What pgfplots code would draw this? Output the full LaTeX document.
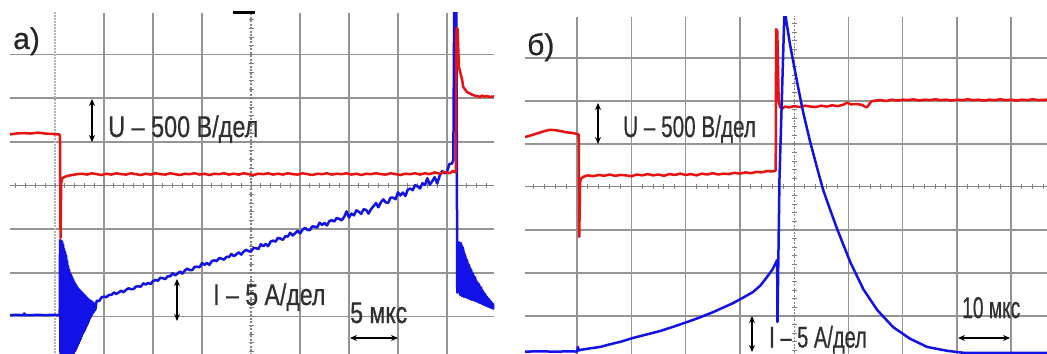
\documentclass[border=0pt]{standalone}
\usepackage{pgfplots}
\pgfplotsset{compat=1.18}
\usepackage{fontspec}
\setmainfont{Liberation Sans}
\newfontfamily\notefont{Liberation Sans}[FakeBold=0.7]
\usetikzlibrary{arrows.meta}

\definecolor{trRed}{RGB}{232,18,18}
\definecolor{trBlue}{RGB}{18,18,232}
\definecolor{gridGray}{RGB}{148,148,148}
\definecolor{centerGray}{RGB}{130,130,130}
\definecolor{txtGray}{RGB}{48,48,48}

% oscilloscope screen: grid only, no axis lines, ticks or labels
\pgfplotsset{
  screen/.style={
    scale only axis,
    anchor=south west,
    axis line style={draw=none},
    tick style={draw=none},
    xticklabel=\empty, yticklabel=\empty,
    grid=major,
    major grid style={gridGray, line width=1.6bp},
    clip=true,
  },
  trace/.style={line width=2.5bp, line join=round, no markers},
  band/.style={fill=trBlue, draw=trBlue, line width=1bp, line join=round, no markers},
}
\tikzset{
  dbl/.style={{Stealth[length=7bp,width=6bp]}-{Stealth[length=7bp,width=6bp]}, line width=1.3bp, black},
  note/.style={anchor=base west, inner sep=0pt, text=txtGray, font=\notefont\fontsize{30bp}{32bp}\selectfont},
  tag/.style={anchor=base west, inner sep=0pt, text=black!85, font=\notefont\fontsize{30bp}{32bp}\selectfont},
}

\begin{document}
\begin{tikzpicture}
\useasboundingbox (0,0) rectangle (1047bp,354bp);

% ---------------- а) ----------------
\begin{axis}[screen, at={(10bp,0bp)}, width=484bp, height=341bp,
  xmin=0.08, xmax=9.96, ymin=-3.858, ymax=3.95,
  xtick={2,3,4,6,7,8,9}, ytick={-3,-2,-1,1,2,3}]
  % trigger position marker line
  \draw[gridGray!70!white, line width=1.4bp, dash pattern=on 1.5bp off 1.5bp] (axis cs:1,-5) -- (axis cs:1,5);
  % centre lines with minor divisions
  \draw[centerGray, line width=1bp] (axis cs:0,0) -- (axis cs:10,0);
  \draw[centerGray, line width=5bp, dash pattern=on 1bp off 8.8bp] (axis cs:-0.0102,0) -- (axis cs:10,0);
  \draw[centerGray, line width=1.2bp, dash pattern=on 2bp off 1.5bp] (axis cs:5,-5) -- (axis cs:5,5);
  \draw[centerGray, line width=5bp, dash pattern=on 1bp off 7.73bp] (axis cs:5,-4.0114) -- (axis cs:5,5);

  % envelope of the ringing after switch-on
  \addplot[band] coordinates {
    (1.102,-1.25) (1.143,-1.28) (1.184,-1.45) (1.224,-1.6) (1.265,-1.85) (1.306,-2.0)
    (1.347,-2.1) (1.388,-2.2) (1.429,-2.28) (1.469,-2.35) (1.51,-2.4) (1.551,-2.45)
    (1.592,-2.5) (1.633,-2.55) (1.673,-2.6) (1.714,-2.63) (1.755,-2.66) (1.796,-2.7)
    (1.837,-2.72)
    (1.827,-2.83) (1.786,-2.9) (1.745,-2.97) (1.704,-3.06) (1.663,-3.17) (1.622,-3.27)
    (1.582,-3.36) (1.541,-3.46) (1.5,-3.57) (1.459,-3.67) (1.418,-3.77) (1.378,-3.84)
    (1.337,-3.93) (1.296,-3.99) (1.255,-4.08) (1.214,-4.14) (1.173,-4.18) (1.133,-4.2)
    (1.112,-4.2)
  };
  % envelope of the ringing after the breakdown
  \addplot[band] coordinates {
    (9.2449,-1.30) (9.2857,-1.32) (9.3265,-1.42) (9.3673,-1.58) (9.4082,-1.70) (9.449,-1.82)
    (9.4898,-1.92) (9.5306,-2.02) (9.5714,-2.10) (9.6122,-2.20) (9.6531,-2.26) (9.6939,-2.33)
    (9.7347,-2.42) (9.7755,-2.48) (9.8163,-2.55) (9.8571,-2.60) (9.898,-2.66) (9.9388,-2.71)
    (9.97,-2.74) (9.97,-2.84)
    (9.9184,-2.81) (9.8776,-2.79) (9.8367,-2.77) (9.7959,-2.75) (9.7551,-2.73) (9.7143,-2.71)
    (9.6735,-2.69) (9.6327,-2.67) (9.5918,-2.65) (9.551,-2.63) (9.5102,-2.62) (9.4694,-2.60)
    (9.4286,-2.58) (9.3878,-2.56) (9.3469,-2.55) (9.3061,-2.53) (9.2653,-2.50)
  };
  % current, 5 A/div
  \addplot[trace, trBlue] coordinates {
    (0.08,-2.97) (0.2,-2.96) (0.35,-2.97) (0.37,-2.93) (0.39,-2.97) (0.5,-2.97)
    (0.65,-2.96) (0.8,-2.97) (0.95,-2.96) (1.08,-2.97) (1.095,-2.97)
    (1.1020,-1.25) (1.1122,-4.2) (1.1224,-1.26) (1.1327,-4.2) (1.1429,-1.28) (1.1531,-4.2)
    (1.1633,-1.35) (1.1735,-4.18) (1.1837,-1.45) (1.1939,-4.16) (1.2041,-1.52) (1.2143,-4.14)
    (1.2245,-1.6) (1.2347,-4.11) (1.2449,-1.72) (1.2551,-4.08) (1.2653,-1.85) (1.2755,-4.03)
    (1.2857,-1.93) (1.2959,-3.99) (1.3061,-2.0) (1.3163,-3.97) (1.3265,-2.05) (1.3367,-3.93)
    (1.3469,-2.1) (1.3571,-3.88) (1.3673,-2.15) (1.3776,-3.84) (1.3878,-2.2) (1.398,-3.81)
    (1.4082,-2.24) (1.4184,-3.77) (1.4286,-2.28) (1.4388,-3.72) (1.449,-2.32) (1.4592,-3.67)
    (1.4694,-2.35) (1.4796,-3.62) (1.4898,-2.38) (1.5,-3.57) (1.5102,-2.4) (1.5204,-3.52)
    (1.5306,-2.43) (1.5408,-3.46) (1.551,-2.45) (1.5612,-3.4) (1.5714,-2.47) (1.5816,-3.36)
    (1.5918,-2.5) (1.602,-3.32) (1.6122,-2.52) (1.6224,-3.27) (1.6327,-2.55) (1.6429,-3.22)
    (1.6531,-2.57) (1.6633,-3.17) (1.6735,-2.6) (1.6837,-3.12) (1.6939,-2.61) (1.7041,-3.06)
    (1.7143,-2.63) (1.7245,-3.01) (1.7347,-2.65) (1.7449,-2.97) (1.7551,-2.66) (1.7653,-2.93)
    (1.7755,-2.68) (1.7857,-2.9) (1.7959,-2.7) (1.8061,-2.87) (1.8163,-2.71) (1.8265,-2.83)
    (1.8367,-2.72)
    (1.85,-2.640) (1.90,-2.645) (1.95,-2.560) (2.00,-2.544) (2.05,-2.557) (2.10,-2.504)
    (2.15,-2.505) (2.20,-2.449) (2.25,-2.483) (2.30,-2.448) (2.35,-2.410) (2.40,-2.444)
    (2.45,-2.388) (2.50,-2.353) (2.55,-2.375) (2.60,-2.373) (2.65,-2.314) (2.70,-2.309)
    (2.75,-2.316) (2.80,-2.241) (2.85,-2.266) (2.90,-2.231) (2.95,-2.258) (3.00,-2.189)
    (3.05,-2.164) (3.10,-2.181) (3.15,-2.110) (3.20,-2.122) (3.25,-2.143) (3.30,-2.076)
    (3.35,-2.081) (3.40,-2.010) (3.45,-2.059) (3.50,-2.016) (3.55,-1.969) (3.60,-2.017)
    (3.65,-1.946) (3.70,-1.903) (3.75,-1.936) (3.80,-1.937) (3.85,-1.862) (3.90,-1.859)
    (3.95,-1.872) (4.00,-1.777) (4.05,-1.816) (4.10,-1.774) (4.15,-1.816) (4.20,-1.730)
    (4.25,-1.713) (4.30,-1.731) (4.35,-1.661) (4.40,-1.675) (4.45,-1.698) (4.50,-1.632)
    (4.55,-1.638) (4.60,-1.568) (4.65,-1.619) (4.70,-1.577) (4.75,-1.532) (4.80,-1.582)
    (4.85,-1.513) (4.90,-1.472) (4.95,-1.506) (5.00,-1.509) (5.05,-1.431) (5.10,-1.434)
    (5.15,-1.456) (5.20,-1.343) (5.25,-1.391) (5.30,-1.339) (5.35,-1.391) (5.40,-1.284)
    (5.45,-1.262) (5.50,-1.285) (5.55,-1.198) (5.60,-1.216) (5.65,-1.244) (5.70,-1.162)
    (5.75,-1.169) (5.80,-1.082) (5.85,-1.145) (5.90,-1.093) (5.95,-1.036) (6.00,-1.099)
    (6.05,-1.016) (6.10,-0.968) (6.15,-1.016) (6.20,-1.024) (6.25,-0.937) (6.30,-0.940)
    (6.35,-0.963) (6.40,-0.851) (6.45,-0.904) (6.50,-0.857) (6.55,-0.915) (6.60,-0.813)
    (6.65,-0.796) (6.70,-0.824) (6.75,-0.742) (6.80,-0.765) (6.85,-0.798) (6.90,-0.721)
    (6.95,-0.594) (7.00,-0.737) (7.05,-0.643) (7.10,-0.683) (7.15,-0.569) (7.20,-0.602)
    (7.25,-0.649) (7.30,-0.541) (7.35,-0.560) (7.40,-0.642) (7.45,-0.541) (7.50,-0.475)
    (7.55,-0.403) (7.60,-0.498) (7.65,-0.384) (7.70,-0.318) (7.75,-0.386) (7.80,-0.397)
    (7.85,-0.276) (7.90,-0.280) (7.95,-0.313) (8.00,-0.156) (8.05,-0.229) (8.10,-0.161)
    (8.15,-0.241) (8.20,-0.096) (8.25,-0.070) (8.30,-0.107) (8.35,0.009) (8.40,-0.021)
    (8.45,-0.068) (8.50,0.052) (8.55,0.014) (8.60,0.166) (8.65,0.018) (8.70,0.100)
    (8.75,0.193) (8.80,0.045) (8.85,0.220) (8.90,0.330) (8.95,0.280) (9.00,0.310)
    (9.05,0.495) (9.10,0.500) (9.13,0.580)
    (9.15,4.6) (9.19,4.6) (9.21,-2.45)
    (9.2449,-1.30) (9.2653,-2.50) (9.2857,-1.32) (9.3061,-2.53) (9.3265,-1.42) (9.3469,-2.55)
    (9.3673,-1.58) (9.3878,-2.56) (9.4082,-1.70) (9.4286,-2.58) (9.449,-1.82) (9.4694,-2.60)
    (9.4898,-1.92) (9.5102,-2.62) (9.5306,-2.02) (9.551,-2.63) (9.5714,-2.10) (9.5918,-2.65)
    (9.6122,-2.20) (9.6327,-2.67) (9.6531,-2.26) (9.6735,-2.69) (9.6939,-2.33) (9.7143,-2.71)
    (9.7347,-2.42) (9.7551,-2.73) (9.7755,-2.48) (9.7959,-2.75) (9.8163,-2.55) (9.8367,-2.77)
    (9.8571,-2.60) (9.8776,-2.79) (9.898,-2.66) (9.9184,-2.81) (9.9388,-2.71) (9.9592,-2.83)
  };
  % voltage, 500 V/div
  \addplot[trace, trRed] coordinates {
    (0.08,1.17) (0.2,1.19) (0.35,1.20) (0.5,1.19) (0.65,1.21) (0.8,1.19) (0.95,1.18)
    (1.08,1.17) (1.10,1.15) (1.112,-1.20) (1.125,0.05) (1.14,0.15) (1.18,0.19)
    (1.25,0.22) (1.35,0.24) (1.45,0.26)
    (1.55,0.27) (1.65,0.25) (1.75,0.28) (1.85,0.26) (1.95,0.24) (2.05,0.27) (2.15,0.25)
    (2.25,0.28) (2.35,0.26) (2.45,0.25) (2.55,0.28) (2.65,0.26) (2.75,0.24) (2.85,0.27)
    (2.95,0.25) (3.05,0.28) (3.15,0.26) (3.25,0.25) (3.35,0.28) (3.45,0.26) (3.55,0.24)
    (3.65,0.27) (3.75,0.26) (3.85,0.28) (3.95,0.25) (4.05,0.27) (4.15,0.24) (4.25,0.27)
    (4.35,0.26) (4.45,0.28) (4.55,0.25) (4.65,0.27) (4.75,0.25) (4.85,0.28) (4.95,0.26)
    (5.05,0.24) (5.15,0.27) (5.25,0.26) (5.35,0.28) (5.45,0.25) (5.55,0.27) (5.65,0.25)
    (5.75,0.28) (5.85,0.26) (5.95,0.25) (6.05,0.28) (6.15,0.26) (6.25,0.24) (6.35,0.27)
    (6.45,0.26) (6.55,0.28) (6.65,0.25) (6.75,0.27) (6.85,0.26) (6.95,0.28) (7.05,0.25)
    (7.15,0.27) (7.25,0.24) (7.35,0.27) (7.45,0.26) (7.55,0.28) (7.65,0.26) (7.75,0.25)
    (7.85,0.28) (7.95,0.26) (8.05,0.24) (8.15,0.27) (8.25,0.26) (8.35,0.28) (8.45,0.25)
    (8.55,0.28) (8.65,0.26) (8.75,0.30) (8.85,0.27) (8.95,0.31) (9.05,0.28) (9.12,0.33)
    (9.18,0.30)
    (9.195,3.61) (9.215,3.58) (9.245,2.71) (9.31,2.42) (9.33,2.26) (9.41,2.14)
    (9.53,2.07) (9.6,2.05) (9.68,2.03) (9.72,2.06) (9.76,2.03) (9.8,2.05) (9.88,2.03)
    (9.96,2.04)
  };
\end{axis}

% ---------------- б) ----------------
\begin{axis}[screen, at={(525bp,0bp)}, width=522bp, height=337bp,
  xmin=0.04, xmax=9.66, ymin=-3.884, ymax=3.953,
  xtick={1,2,3,4,6,7,8,9}, ytick={-3,-2,-1,1,2,3}]
  \draw[centerGray, line width=1bp] (axis cs:0,0) -- (axis cs:10,0);
  \draw[centerGray, line width=5bp, dash pattern=on 1bp off 9.85bp] (axis cs:-0.0092,0) -- (axis cs:10,0);
  \draw[centerGray, line width=1.2bp, dash pattern=on 2bp off 1.5bp] (axis cs:5,-5) -- (axis cs:5,5);
  \draw[centerGray, line width=5bp, dash pattern=on 1bp off 7.6bp] (axis cs:5,-4.0116) -- (axis cs:5,5);

  % voltage, 500 V/div
  \addplot[trace, trRed] coordinates {
    (0.04,1.16) (0.12,1.19) (0.2,1.22) (0.3,1.26) (0.4,1.30) (0.5,1.33) (0.6,1.32)
    (0.7,1.30) (0.8,1.27) (0.9,1.26) (0.97,1.24) (1.03,1.22) (1.04,-1.16) (1.055,0.12)
    (1.08,0.2) (1.12,0.24) (1.2,0.27)
    (1.3,0.25) (1.4,0.28) (1.5,0.26) (1.6,0.29) (1.7,0.26) (1.8,0.28) (1.9,0.27)
    (2.0,0.25) (2.1,0.29) (2.2,0.27) (2.3,0.30) (2.4,0.27) (2.5,0.29) (2.6,0.26)
    (2.7,0.30) (2.8,0.28) (2.9,0.31) (3.0,0.28) (3.1,0.30) (3.2,0.27) (3.3,0.31)
    (3.4,0.29) (3.5,0.32) (3.6,0.29) (3.7,0.31) (3.8,0.30) (3.9,0.33) (4.0,0.31)
    (4.1,0.34) (4.2,0.32) (4.3,0.35) (4.4,0.34) (4.5,0.37) (4.6,0.36) (4.66,0.38)
    (4.668,3.67) (4.69,3.62) (4.715,2.0) (4.74,1.86) (4.78,1.82) (4.83,1.87)
    (4.9,1.85) (5.0,1.88) (5.1,1.86) (5.2,1.89) (5.3,1.87) (5.4,1.86) (5.5,1.89)
    (5.6,1.87) (5.7,1.90) (5.8,1.88) (5.9,1.91) (5.98,1.96) (6.05,1.92) (6.15,1.93)
    (6.25,1.91) (6.33,1.85) (6.36,1.88) (6.42,1.99) (6.5,2.01) (6.6,2.02)
    (6.7,2.00) (6.8,2.03) (6.9,2.01) (7.0,2.03) (7.1,2.02) (7.2,2.04) (7.3,2.01)
    (7.4,2.03) (7.5,2.02) (7.6,2.04) (7.7,2.02) (7.8,2.03) (7.9,2.01) (8.0,2.03)
    (8.1,2.02) (8.2,2.04) (8.3,2.02) (8.4,2.03) (8.5,2.01) (8.6,2.03) (8.7,2.02)
    (8.8,2.04) (8.9,2.02) (9.0,2.03) (9.1,2.01) (9.2,2.03) (9.3,2.02) (9.4,2.04)
    (9.5,2.02) (9.66,2.03)
  };
  % current, 5 A/div
  \addplot[trace, trBlue] coordinates {
    (0.04,-3.83) (0.3,-3.82) (0.6,-3.83) (0.9,-3.82) (1.0,-3.83) (1.015,-3.72)
    (1.03,-3.80) (1.055,-3.79) (1.2,-3.76) (1.424,-3.72) (1.6,-3.66) (1.8,-3.60)
    (2.032,-3.51) (2.25,-3.44) (2.53,-3.35) (2.75,-3.26) (3.028,-3.14) (3.25,-3.04)
    (3.507,-2.91) (3.7,-2.80) (3.876,-2.70) (4.05,-2.58) (4.244,-2.44) (4.38,-2.29)
    (4.502,-2.09) (4.6,-1.92) (4.687,-1.70)
    (4.693,-3.14) (4.73,0.2) (4.825,4.25)
    (4.853,3.88) (4.926,3.30) (5.055,2.44) (5.166,1.74) (5.295,1.05) (5.424,0.44)
    (5.535,-0.07) (5.664,-0.53) (5.793,-0.98) (6.032,-1.74) (6.272,-2.37) (6.53,-2.86)
    (6.825,-3.26) (7.138,-3.53) (7.452,-3.72) (7.82,-3.81) (8.152,-3.86) (9.66,-3.86)
  };
\end{axis}

% trigger marker above screen а)
\draw[black, line width=2.5bp] (233bp,341.5bp) -- (255bp,341.5bp);

% scale arrows
\draw[dbl] (92bp,255bp) -- (92bp,212bp);
\draw[dbl] (177bp,75bp) -- (177bp,33bp);
\draw[dbl] (350bp,16bp) -- (398bp,16bp);
\draw[dbl] (598bp,251bp) -- (598bp,210bp);
\draw[dbl] (752bp,38bp) -- (752bp,2bp);
\draw[dbl] (958bp,16bp) -- (1010bp,16bp);

% labels
\node[tag] at (13bp,305bp) {а)};
\node[note] at (108bp,217bp) {\scalebox{0.78}[1]{U – 500 В/дел}};
\node[note] at (213bp,49bp) {\scalebox{0.77}[1]{I – 5 А/дел}};
\node[note] at (350bp,31bp) {\scalebox{0.77}[1]{5 мкс}};
\node[tag] at (527bp,299bp) {б)};
\node[note] at (623bp,217bp) {\scalebox{0.69}[1]{U – 500 В/дел}};
\node[note] at (769bp,6.5bp) {\scalebox{0.67}[1]{I – 5 А/дел}};
\node[note] at (962bp,36bp) {\scalebox{0.64}[1]{10 мкс}};
\end{tikzpicture}
\end{document}
